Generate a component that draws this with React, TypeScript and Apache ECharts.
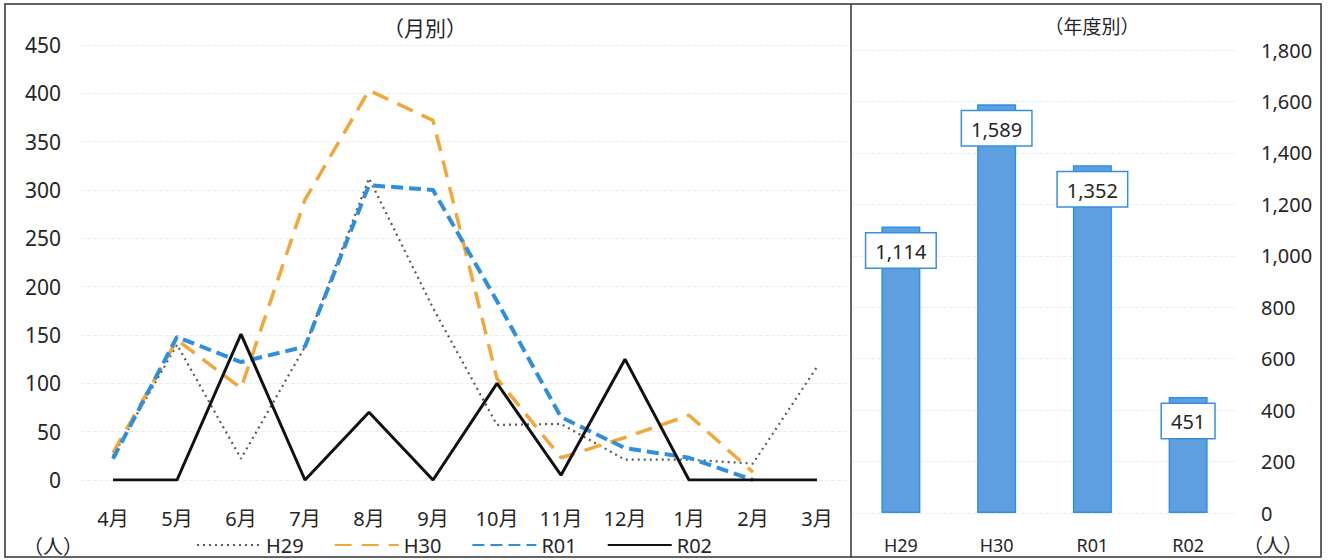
import React, { useEffect, useRef } from "react";
import * as echarts from "echarts";

const months = ["4月", "5月", "6月", "7月", "8月", "9月", "10月", "11月", "12月", "1月", "2月", "3月"];
const h29 = [25, 140, 22, 138, 312, 178, 57, 58, 21, 21, 17, 117];
const h30 = [28, 145, 95, 290, 403, 372, 105, 23, 44, 67, 8, null];
const r01 = [22, 148, 122, 138, 305, 300, 185, 65, 33, 23, 0, null];
const r02 = [0, 0, 151, 0, 70, 0, 100, 5, 125, 0, 0, 0];

const years = ["H29", "H30", "R01", "R02"];
const totals = [1114, 1589, 1352, 451];

const leftTicks = { min: 0, max: 450, interval: 50 };
const rightTicks = { min: 0, max: 1800, interval: 200 };

const FONT = "'Noto Sans', 'Noto Sans CJK JP', sans-serif";

export default function App() {
  const ref = useRef<HTMLDivElement>(null);
  useEffect(() => {
    if (!ref.current) return;
    const chart = echarts.init(ref.current, null, { renderer: "svg" });
    const faint = { show: true, lineStyle: { color: "#ededed", type: "dashed", width: 1 } };
    chart.setOption({
      animation: false,
      backgroundColor: "#ffffff",
      textStyle: { fontFamily: FONT, color: "#262626" },
      grid: [
        { left: 81, right: 1328 - 849, top: 45, bottom: 560 - 480 },
        { left: 853, right: 1328 - 1236, top: 50, bottom: 560 - 513 },
      ],
      legend: {
        left: 196,
        top: 534,
        padding: 0,
        itemWidth: 64,
        itemHeight: 14,
        itemGap: 30,
        itemStyle: { opacity: 0 },
        textStyle: { fontSize: 20, color: "#262626", fontFamily: FONT, lineHeight: 22 },
        data: ["H29", "H30", "R01", "R02"],
      },
      xAxis: [
        {
          gridIndex: 0,
          type: "category",
          data: months,
          boundaryGap: true,
          axisLine: { show: false },
          axisTick: { show: false },
          axisLabel: { fontSize: 20, margin: 28, color: "#262626" },
        },
        {
          gridIndex: 1,
          type: "category",
          data: years,
          axisLine: { show: false },
          axisTick: { show: false },
          axisLabel: { fontSize: 18, margin: 23, color: "#262626" },
        },
      ],
      yAxis: [
        {
          gridIndex: 0,
          type: "value",
          ...leftTicks,
          axisLine: { show: false },
          axisTick: { show: false },
          axisLabel: { fontSize: 21, margin: 20, color: "#262626" },
          splitLine: faint,
        },
        {
          gridIndex: 1,
          type: "value",
          position: "right",
          ...rightTicks,
          axisLine: { show: false },
          axisTick: { show: false },
          axisLabel: {
            fontSize: 20,
            margin: 25,
            color: "#262626",
            formatter: (v: number) => v.toLocaleString("en-US"),
          },
          splitLine: faint,
        },
      ],
      series: [
        {
          name: "H29",
          type: "line",
          xAxisIndex: 0,
          yAxisIndex: 0,
          data: h29,
          symbol: "none",
          color: "#5a5a5a",
          lineStyle: { color: "#5a5a5a", width: 2.2, type: [2, 4] },
          z: 2,
        },
        {
          name: "H30",
          type: "line",
          xAxisIndex: 0,
          yAxisIndex: 0,
          data: h30,
          symbol: "none",
          color: "#F2A73B",
          lineStyle: { color: "#F2A73B", width: 3.5, type: [17, 10] },
          z: 3,
        },
        {
          name: "R01",
          type: "line",
          xAxisIndex: 0,
          yAxisIndex: 0,
          data: r01,
          symbol: "none",
          color: "#2F8FDD",
          lineStyle: { color: "#2F8FDD", width: 4, type: [12, 6] },
          z: 4,
        },
        {
          name: "R02",
          type: "line",
          xAxisIndex: 0,
          yAxisIndex: 0,
          data: r02,
          symbol: "none",
          color: "#111111",
          lineStyle: { color: "#111111", width: 3 },
          z: 5,
        },
        {
          name: "年度別",
          type: "bar",
          xAxisIndex: 1,
          yAxisIndex: 1,
          data: totals,
          barWidth: 39,
          itemStyle: { color: "#5E9FDF", borderColor: "#2F8FE6", borderWidth: 1.5 },
          label: {
            show: true,
            position: "insideTop",
            distance: 7,
            fontSize: 20,
            color: "#262626",
            backgroundColor: "#ffffff",
            borderColor: "#3A8FDD",
            borderWidth: 1.5,
            padding: [8, 9, 6, 9],
            formatter: (p: any) => Number(p.value).toLocaleString("en-US"),
          },
        },
      ],
      graphic: [
        {
          type: "rect",
          shape: { x: 5, y: 4, width: 1316, height: 553 },
          style: { fill: "none", stroke: "#333333", lineWidth: 1.5 },
          silent: true,
        },
        {
          type: "line",
          shape: { x1: 851, y1: 4, x2: 851, y2: 557 },
          style: { stroke: "#333333", lineWidth: 1.5 },
          silent: true,
        },
        {
          type: "text",
          x: 425,
          y: 28,
          style: { text: "（月別）", font: `21px ${FONT}`, fill: "#262626", align: "center", verticalAlign: "middle" },
        },
        {
          type: "text",
          x: 1092,
          y: 27,
          style: { text: "（年度別）", font: `19px ${FONT}`, fill: "#262626", align: "center", verticalAlign: "middle" },
        },
        {
          type: "text",
          x: 53,
          y: 546,
          style: { text: "（人）", font: `20px ${FONT}`, fill: "#262626", align: "center", verticalAlign: "middle" },
        },
        {
          type: "text",
          x: 1273,
          y: 545,
          style: { text: "（人）", font: `20px ${FONT}`, fill: "#262626", align: "center", verticalAlign: "middle" },
        },
      ],
    });
    return () => chart.dispose();
  }, []);
  return (
    <div
      ref={ref}
      style={{ position: "fixed", left: 0, top: 0, width: 1328, height: 560, background: "#fff" }}
    />
  );
}
